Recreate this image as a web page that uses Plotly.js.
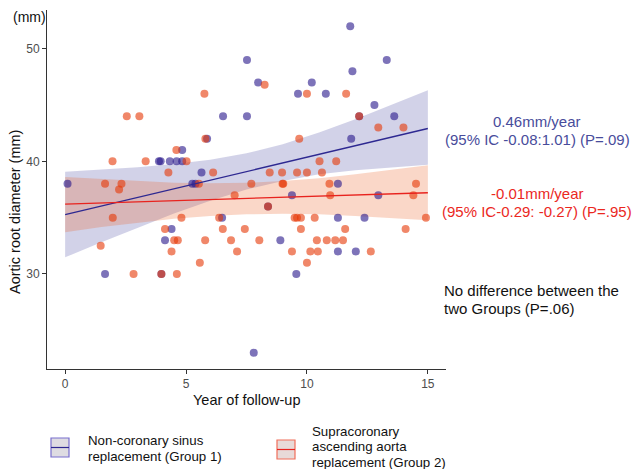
<!DOCTYPE html>
<html><head><meta charset="utf-8">
<script src="https://cdn.plot.ly/plotly-3.0.1.min.js"></script>
<style>html,body{margin:0;padding:0;background:#fff;} #chart{width:633px;height:469px;}</style>
</head><body><div id="chart"></div>
<script>
// Group 1: Non-coronary sinus replacement (observations)
const g1Years = [0.1, 1.65, 3.88, 3.95, 4.33, 4.61, 4.84, 4.84, 5.64, 5.26, 5.39, 5.87, 6.53, 3.98, 4.40, 4.13, 6.49, 7.52, 7.98, 7.52, 7.80, 8.39, 8.90, 9.38, 9.56, 9.63, 10.2, 10.78, 11.28, 11.28, 11.28, 11.79, 11.88, 11.83, 12.02, 12.16, 12.38, 12.79, 12.95, 13.3, 13.61];
const g1Diam  = [38, 30, 40, 40, 40, 40, 40, 41, 39, 38, 38, 42, 44, 30, 34, 33, 35, 49, 47, 44, 23, 36, 33, 37, 30, 46, 47, 46, 38, 35, 32, 52, 48, 42, 32, 44, 35, 45, 37, 49, 44];
// Group 2: Supracoronary ascending aorta replacement (observations)
const g2Years = [1.47, 1.65, 1.96, 1.97, 2.23, 2.33, 2.55, 2.83, 3.07, 3.33, 3.98, 4.13, 4.27, 4.40, 4.51, 4.66, 4.62, 4.60, 4.81, 5.02, 5.53, 5.57, 5.76, 5.79, 5.80, 6.12, 6.37, 6.52, 6.86, 7.01, 7.11, 7.43, 7.70, 8.03, 8.25, 8.39, 8.46, 8.97, 8.99, 9.02, 9.38, 9.49, 9.59, 9.75, 9.59, 9.68, 9.75, 10.0, 10.0, 10.0, 10.14, 10.32, 10.41, 10.45, 10.52, 10.62, 10.82, 10.93, 10.96, 11.17, 11.21, 11.49, 11.58, 11.62, 12.16, 12.64, 12.95, 13.99, 14.08, 14.4, 14.51, 14.92];
const g2Diam  = [32.5, 38, 40, 35, 37.5, 38, 44, 30, 44, 40, 30, 34, 39, 32, 33, 33, 30, 41, 35, 40, 38, 31, 46, 33, 42, 39, 35, 34, 33, 37, 32, 34, 38, 33, 46.8, 36, 39, 39, 38, 38, 32, 35, 35, 35, 39, 42, 34, 39, 46, 31, 32, 35, 33, 32, 40, 39, 33, 38, 37, 33, 40, 33, 34, 46, 44, 32, 43, 43, 34, 37, 38, 35];

// Fitted trend and 95% band
const fitYears = [0, 1.5, 3, 4.5, 6, 7.5, 9, 10.5, 12, 13.5, 15];
const g1Fit   = [35.27, 36.04, 36.80, 37.57, 38.33, 39.10, 39.86, 40.63, 41.39, 42.16, 42.92];
const g1Lower = [31.47, 32.82, 34.12, 35.37, 36.51, 37.49, 38.25, 38.85, 39.20, 39.45, 39.70];
const g1Upper = [39.07, 39.26, 39.48, 39.77, 40.15, 40.71, 41.52, 42.56, 43.74, 45.02, 46.33];
const g2Fit   = [36.20, 36.30, 36.40, 36.50, 36.60, 36.70, 36.80, 36.90, 37.00, 37.10, 37.21];
const g2Lower = [33.70, 34.17, 34.55, 34.89, 35.14, 35.30, 35.34, 35.29, 35.15, 34.97, 34.76];
const g2Upper = [38.60, 38.43, 38.25, 38.11, 38.06, 38.10, 38.26, 38.51, 38.85, 39.23, 39.66];

const xTicks = [0, 5, 10, 15];
const yTicks = [30, 40, 50];
const g1Label = ['Non-coronary sinus', 'replacement (Group 1)'];
const g2Label = ['Supracoronary', 'ascending aorta', 'replacement (Group 2)'];
const g1Note = ['0.46mm/year', '(95% IC -0.08:1.01) (P=.09)'];
const g2Note = ['-0.01mm/year', '(95% IC-0.29: -0.27) (P=.95)'];
const diffNote = ['No difference between the', 'two Groups (P=.06)'];

function band(lo,hi,col){return {x:fitYears.concat(fitYears.slice().reverse()), y:hi.concat(lo.slice().reverse()), type:'scatter', mode:'lines', fill:'toself', fillcolor:col, line:{width:0}, hoverinfo:'skip', showlegend:false};}

const blueLine='rgb(45,40,145)', redLine='rgb(232,35,30)';
const traces=[
  band(g1Lower,g1Upper,'rgba(75,75,165,0.25)'),
  band(g2Lower,g2Upper,'rgba(235,95,35,0.25)'),
  {x:g1Years,y:g1Diam,type:'scatter',mode:'markers',marker:{size:8,color:'rgba(38,22,138,0.6)'},showlegend:false},
  {x:g2Years,y:g2Diam,type:'scatter',mode:'markers',marker:{size:8,color:'rgba(230,55,5,0.6)'},showlegend:false},
  {x:fitYears,y:g1Fit,type:'scatter',mode:'lines',line:{color:blueLine,width:1.3},showlegend:false},
  {x:fitYears,y:g2Fit,type:'scatter',mode:'lines',line:{color:redLine,width:1.3},showlegend:false}
];

const L=47,R=446,T=10,B=369;
const px=x=>(x-L)/(R-L), py=y=>(B-y)/(B-T);
const FONT='Liberation Sans, Arial, sans-serif';
const ann=[];
function txt(t,x,y,opt){ann.push(Object.assign({text:t,xref:'paper',yref:'paper',x:px(x),y:py(y),showarrow:false,xanchor:'center',yanchor:'middle',font:{family:FONT,size:15,color:'#111'}},opt||{}));}
txt('Year of follow-up',246,400,{font:{family:FONT,size:14.5,color:'#111'}});
txt('Aortic root diameter (mm)',15,212,{textangle:-90,font:{family:FONT,size:14.5,color:'#111'}});
txt('(mm)',11,17,{xanchor:'left',font:{family:FONT,size:14,color:'#111'}});
txt(g1Note[0],537,122,{font:{family:FONT,size:15,color:'rgb(72,76,155)'}});
txt(g1Note[1],537,139.5,{font:{family:FONT,size:15,color:'rgb(72,76,155)'}});
txt(g2Note[0],537,193.5,{font:{family:FONT,size:15,color:'rgb(235,40,30)'}});
txt(g2Note[1],537,211.5,{font:{family:FONT,size:15,color:'rgb(235,40,30)'}});
txt(diffNote[0],442,290,{xanchor:'left'});
txt(diffNote[1],442,308.5,{xanchor:'left'});
const legFont={family:FONT,size:13.3,color:'#111'};
txt(g1Label[0],86,440,{xanchor:'left',font:legFont});
txt(g1Label[1],86,456.5,{xanchor:'left',font:legFont});
txt(g2Label[0],310,431,{xanchor:'left',font:legFont});
txt(g2Label[1],310,446.5,{xanchor:'left',font:legFont});
txt(g2Label[2],310,462,{xanchor:'left',font:legFont});

function key(x0,y0,w,h,edge,fill,lc){return [
  {type:'rect',xref:'paper',yref:'paper',x0:px(x0),x1:px(x0+w),y0:py(y0),y1:py(y0+h),fillcolor:fill,line:{color:edge,width:1.2}},
  {type:'line',xref:'paper',yref:'paper',x0:px(x0),x1:px(x0+w),y0:py(y0+h/2),y1:py(y0+h/2),line:{color:lc,width:1.2}}];}
const shapes=[].concat(key(51,438,18,19,'rgb(120,110,205)','rgb(222,220,226)',blueLine), key(277,440,18,19,'rgb(240,110,90)','rgb(232,218,216)',redLine));

const axisCommon={showline:true,linecolor:'#333',linewidth:1,ticks:'outside',ticklen:4,tickcolor:'#333',tickwidth:1,showgrid:false,zeroline:false,tickfont:{family:FONT,size:12,color:'#4d4d4d'}};
const layout={
  width:633,height:469,margin:{l:L,r:633-R,t:T,b:469-B},paper_bgcolor:'#fff',plot_bgcolor:'#fff',showlegend:false,
  xaxis:Object.assign({range:[-0.75,15.75],tickvals:xTicks,ticktext:xTicks.map(String)},axisCommon),
  yaxis:Object.assign({range:[21.55,53.45],tickvals:yTicks,ticktext:yTicks.map(String)},axisCommon),
  annotations:ann, shapes:shapes
};
Plotly.newPlot('chart',traces,layout,{displayModeBar:false,staticPlot:true});
</script></body></html>
